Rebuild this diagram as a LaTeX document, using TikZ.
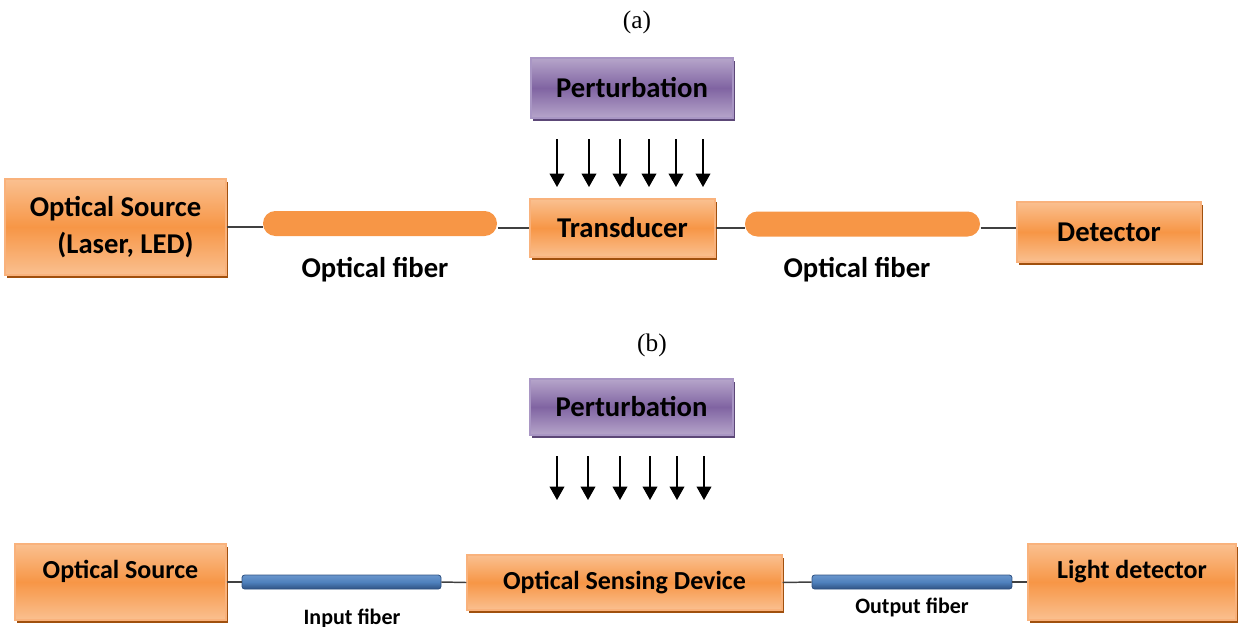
\documentclass[tikz,border=0pt]{standalone}
\usepackage{fontspec}
\setmainfont{Liberation Serif}
\newfontfamily\calibri{Carlito}
\usetikzlibrary{arrows.meta,shadows}

\definecolor{boxorange}{HTML}{F79646}
\definecolor{boxorangelight}{HTML}{FAC090}
\definecolor{boxorangeedge}{HTML}{F9B27C}
\definecolor{boxorangeshadow}{HTML}{A0500E}
\definecolor{boxpurple}{HTML}{8064A2}
\definecolor{boxpurplelight}{HTML}{B6A5CA}
\definecolor{boxpurpleedge}{HTML}{A996C4}
\definecolor{boxpurpleshadow}{HTML}{5C4777}
\definecolor{fiberblue}{HTML}{4F81BD}
\definecolor{fiberbluelight}{HTML}{6A96CC}
\definecolor{fiberbluedark}{HTML}{2F5283}
\definecolor{wiregray}{HTML}{404040}

\tikzset{every picture/.style={line width=0.75pt}}
\tikzset{
  orangebox/.style={draw=boxorangeedge, line width=0.8pt,
    top color=boxorangelight, bottom color=boxorangelight, middle color=boxorange,
    drop shadow={shadow xshift=1.5pt, shadow yshift=-2.2pt, fill=boxorangeshadow, opacity=1},
    inner sep=0pt, align=center, font=\calibri\bfseries\fontsize{21.5}{28}\selectfont},
  purplebox/.style={draw=boxpurpleedge, line width=0.8pt,
    top color=boxpurplelight, bottom color=boxpurplelight, middle color=boxpurple,
    drop shadow={shadow xshift=1.5pt, shadow yshift=-2.2pt, fill=boxpurpleshadow, opacity=1},
    inner sep=0pt, font=\calibri\bfseries\fontsize{21.5}{25}\selectfont},
  smallbox/.style={font=\calibri\bfseries\fontsize{19.5}{23}\selectfont},
  raisedtext/.style={text height=13pt, text depth=18pt},
  orangefiber/.style={fill=boxorange, rounded corners=9.3pt, inner sep=0pt},
  bluefiber/.style={draw=fiberbluedark, line width=0.6pt,
    top color=fiberbluelight, bottom color=fiberbluedark, middle color=fiberblue,
    rounded corners=2pt, inner sep=0pt},
  wire/.style={draw=wiregray, line width=1.1pt},
  pertarrow/.style={-{Triangle[length=10pt,width=11pt]}, line width=1.1pt},
  fiberlabel/.style={font=\calibri\bfseries\fontsize{21.5}{25}\selectfont},
  fibernote/.style={font=\calibri\bfseries\fontsize{16.5}{19}\selectfont},
  caption/.style={font=\fontsize{19}{22}\selectfont}
}

\begin{document}
\begin{tikzpicture}[x=0.75pt,y=0.75pt,yscale=-1,xscale=1]
\useasboundingbox (0,0) rectangle (1239,626);

% Text Node
\node [caption] (capA) at (637,22) {(a)};
%Shape: Rectangle
\node [purplebox, minimum width=151.5pt, minimum height=45pt] (pertA) at (632,88) {Perturbation};
%Shape: Rectangle
\node [orangebox, minimum width=165.75pt, minimum height=72pt] (srcA) at (115.5,227) {Optical Source\\\hspace*{0.7em}(Laser, LED)};
%Shape: Rounded Rect
\node [orangefiber, minimum width=175.5pt, minimum height=18.75pt] (fibA1) at (380,223.5) {};
%Shape: Rectangle
\node [orangebox, minimum width=138.75pt, minimum height=43.5pt] (trans) at (622.5,228) {Transducer};
%Shape: Rounded Rect
\node [orangefiber, minimum width=176.25pt, minimum height=18.75pt] (fibA2) at (862.5,224) {};
%Shape: Rectangle
\node [orangebox, minimum width=138pt, minimum height=45pt] (det) at (1109,232) {Detector};

%Straight Lines
\draw [wire] (srcA.east) -- (srcA.east -| fibA1.west);
\draw [wire] (trans.west -| fibA1.east) -- (trans.west);
\draw [wire] (trans.east) -- (trans.east -| fibA2.west);
\draw [wire] (trans.east -| fibA2.east) -- (trans.east -| det.west);

%Straight Lines
\foreach \x [count=\i] in {557,589,620,649,676,703} {
  \coordinate (tailA\i) at (\x,139);
  \coordinate (headA\i) at (\x,187);
  \draw [pertarrow] (tailA\i) -- (headA\i);
}

% Text Node
\node [fiberlabel] (lblA1) at (375,270) {Optical fiber};
% Text Node
\node [fiberlabel] (lblA2) at (857,270) {Optical fiber};

% Text Node
\node [caption] (capB) at (652,345) {(b)};
%Shape: Rectangle
\node [purplebox, minimum width=152.25pt, minimum height=42pt] (pertB) at (631.5,407) {Perturbation};
%Shape: Rectangle
\node [orangebox, smallbox, raisedtext, minimum width=158.25pt, minimum height=57pt] (srcB) at (120.5,582) {Optical Source};
%Shape: Rectangle
\node [bluefiber, minimum width=149.25pt, minimum height=10.5pt] (fibB1) at (341.5,582) {};
%Shape: Rectangle
\node [orangebox, smallbox, minimum width=236.25pt, minimum height=41.25pt] (osd) at (624.5,582.5) {Optical Sensing Device};
%Shape: Rectangle
\node [bluefiber, minimum width=150pt, minimum height=10.5pt] (fibB2) at (912,582) {};
%Shape: Rectangle
\node [orangebox, smallbox, raisedtext, minimum width=156pt, minimum height=57pt] (ldet) at (1132,582) {Light detector};

%Straight Lines
\draw [wire] (srcB.east) -- (fibB1.west);
\draw [wire] (fibB1.east) -- (osd.west);
\draw [wire] (osd.east) -- (fibB2.west);
\draw [wire] (fibB2.east) -- (ldet.west);

%Straight Lines
\foreach \x [count=\i] in {557,588,620,650,677,704} {
  \coordinate (tailB\i) at (\x,456);
  \coordinate (headB\i) at (\x,500);
  \draw [pertarrow] (tailB\i) -- (headB\i);
}

% Text Node
\node [fibernote, anchor=base] (lblB1) at (352,624) {Input fiber};
% Text Node
\node [fibernote] (lblB2) at (912,607) {Output fiber};

\end{tikzpicture}
\end{document}
